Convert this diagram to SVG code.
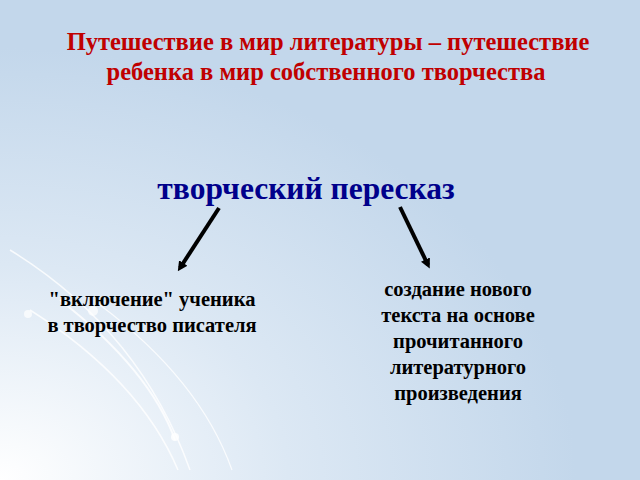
<svg xmlns="http://www.w3.org/2000/svg" width="640" height="480" viewBox="0 0 640 480">
<defs>
<radialGradient id="bg" cx="0" cy="1" r="0.9">
<stop offset="0" stop-color="#ffffff"/>
<stop offset="0.5" stop-color="#dce8f4"/>
<stop offset="1" stop-color="#c3d7eb"/>
</radialGradient>
<marker id="ah" markerWidth="10" markerHeight="10" refX="6" refY="5" orient="auto" markerUnits="userSpaceOnUse" viewBox="0 0 10 10">
<path d="M0,0 L10,5 L0,10 z" fill="#000"/>
</marker>
<style>
.t{font-family:"Liberation Serif","Times New Roman",serif;font-weight:bold;text-anchor:middle}
.title{fill:#c00000;font-size:24.5px}
.main{fill:#00008b;font-size:31.5px}
.sub{fill:#000;font-size:20.5px}
.deco{fill:none;stroke:#fff;stroke-opacity:0.8}
</style>
</defs>
<rect width="640" height="480" fill="#c3d7eb"/>
<rect width="640" height="480" fill="url(#bg)"/>
<g id="decoration">
<path class="deco" d="M10,250 Q140,330 190,470" stroke-width="1.5"/>
<path class="deco" d="M30,310 Q140,380 178,470" stroke-width="1.5"/>
<path class="deco" d="M60,300 Q150,370 175,440" stroke-width="2"/>
<path class="deco" d="M100,305 Q200,380 232,470" stroke-width="1.2"/>
<circle cx="28" cy="314" r="4" fill="#fff" opacity="0.7"/>
<circle cx="93" cy="311" r="5" fill="#fff" opacity="0.7"/>
<circle cx="175" cy="437" r="4" fill="#fff" opacity="0.8"/>
</g>
<g id="title"><text class="t title" x="328" y="50">Путешествие в мир литературы – путешествие</text>
<text class="t title" x="326" y="80">ребенка в мир собственного творчества</text></g>
<g id="main"><text class="t main" x="306" y="199">творческий пересказ</text></g>
<g id="connectors" stroke="#000" stroke-width="4" marker-end="url(#ah)">
<line x1="219" y1="208" x2="180" y2="268"/>
<line x1="400" y1="207" x2="428" y2="265"/>
</g>
<g id="left"><text class="t sub" x="152" y="306">"включение" ученика</text>
<text class="t sub" x="152" y="332">в творчество писателя</text></g>
<g id="right"><text class="t sub" x="458" y="296">создание нового</text>
<text class="t sub" x="458" y="322">текста на основе</text>
<text class="t sub" x="458" y="348">прочитанного</text>
<text class="t sub" x="458" y="374">литературного</text>
<text class="t sub" x="458" y="400">произведения</text></g>
</svg>
